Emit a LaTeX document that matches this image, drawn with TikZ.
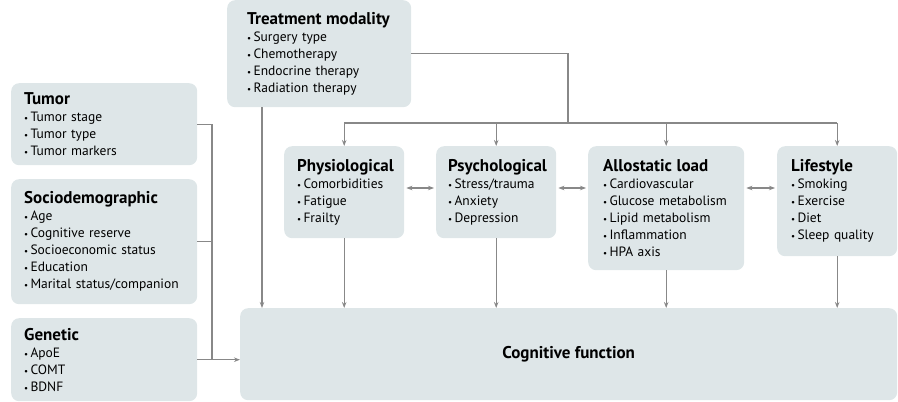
\documentclass[tikz,border=0pt]{standalone}
\usepackage{fontspec}
\setmainfont{PT Sans}
\usetikzlibrary{arrows.meta}
\definecolor{boxfill}{HTML}{DEE6E8}
\definecolor{linkgray}{HTML}{888888}
\newcommand{\bul}{{\small\textbullet}\,}
\newcommand{\hd}[1]{{\bfseries\fontsize{17}{17}\selectfont #1}}

\begin{document}
\begin{tikzpicture}[x=1pt,y=-1pt,>={Stealth[length=6pt,width=4.5pt]},
  factor/.style={fill=boxfill,rounded corners=8pt,anchor=north west,align=left,
    inner xsep=13pt,inner ysep=0pt,font=\fontsize{13.5}{17}\selectfont},
  link/.style={draw=linkgray,line width=1.1pt}]
 % \draw[help lines] (0,0) grid (898,402);
  \useasboundingbox (0,0) rectangle (898,402);
  % outer factors
  \node[factor,inner xsep=20pt,text width=144pt,minimum height=107pt] (treat) at (227,0)
    {\hd{Treatment modality}\\ \bul Surgery type\\ \bul Chemotherapy\\ \bul Endocrine therapy\\ \bul Radiation therapy};
  \node[factor,text width=160pt,minimum height=82pt] (tumor) at (11,83)
    {\hd{Tumor}\\ \bul Tumor stage\\ \bul Tumor type\\ \bul Tumor markers};
  \node[factor,text width=160pt,minimum height=125pt] (socio) at (11,179)
    {\hd{Sociodemographic}\\ \bul Age\\ \bul Cognitive reserve\\ \bul Socioeconomic status\\ \bul Education\\ \bul Marital status/companion};
  \node[factor,text width=160pt,minimum height=83pt] (genetic) at (11,318)
    {\hd{Genetic}\\ \bul ApoE\\ \bul COMT\\ \bul BDNF};
  % mediators
  \node[factor,text width=94pt,minimum height=92pt] (physio) at (284,146)
    {\hd{Physiological}\\ \bul Comorbidities\\ \bul Fatigue\\ \bul Frailty};
  \node[factor,inner xsep=12pt,text width=96pt,minimum height=92pt] (psycho) at (436,146)
    {\hd{Psychological}\\ \bul Stress/trauma\\ \bul Anxiety\\ \bul Depression};
  \node[factor,inner xsep=15pt,text width=126pt,minimum height=124pt] (allo) at (588,146)
    {\hd{Allostatic load}\\ \bul Cardiovascular\\ \bul Glucose metabolism\\ \bul Lipid metabolism\\ \bul Inflammation\\ \bul HPA axis};
  \node[factor,inner xsep=14pt,text width=92pt,minimum height=110pt] (life) at (777,146)
    {\hd{Lifestyle}\\ \bul Smoking\\ \bul Exercise\\ \bul Diet\\ \bul Sleep quality};
  \node[factor,align=center,minimum width=657pt,minimum height=92pt] (cog) at (240,308)
    {\hd{Cognitive function}};

  % treatment feeds the mediators
  \coordinate (split) at (568,123);
  \coordinate (tdrop) at ([xshift=35pt]treat.south west);
  \coordinate (lbus) at (212,124);
  \path[link] (treat.east) -| (split)
              (physio.north |- split) -- (life.north |- split);
  \foreach \n in {physio,psycho,allo,life} {
    \path[link,->] (\n.north |- split) -- (\n.north);
    \path[link,->] (\n.south) -- (\n.south |- cog.north);
  }
  \path[link,->] (tdrop) -- (tdrop |- cog.north);
  % left column bus
  \path[link] (tumor.east) -- (tumor.east -| lbus) -- (genetic.east -| lbus)
              (socio.east) -- (socio.east -| lbus);
  \path[link,->] (genetic.east) -- (genetic.east -| cog.west);
  % mediators talk to each other
  \coordinate (physio-r) at ([yshift=-42pt]physio.north east);
  \coordinate (psycho-l) at ([yshift=-42pt]psycho.north west);
  \coordinate (psycho-r) at ([yshift=-42pt]psycho.north east);
  \coordinate (allo-l) at ([yshift=-42pt]allo.north west);
  \coordinate (allo-r) at ([yshift=-42pt]allo.north east);
  \coordinate (life-l) at ([yshift=-42pt]life.north west);
  \path[link,<->,shorten <=2pt,shorten >=2pt] (physio-r) -- (psycho-l);
  \path[link,<->,shorten <=2pt,shorten >=2pt] (psycho-r) -- (allo-l);
  \path[link,<->,shorten <=2pt,shorten >=2pt] (allo-r) -- (life-l);
\end{tikzpicture}
\end{document}
